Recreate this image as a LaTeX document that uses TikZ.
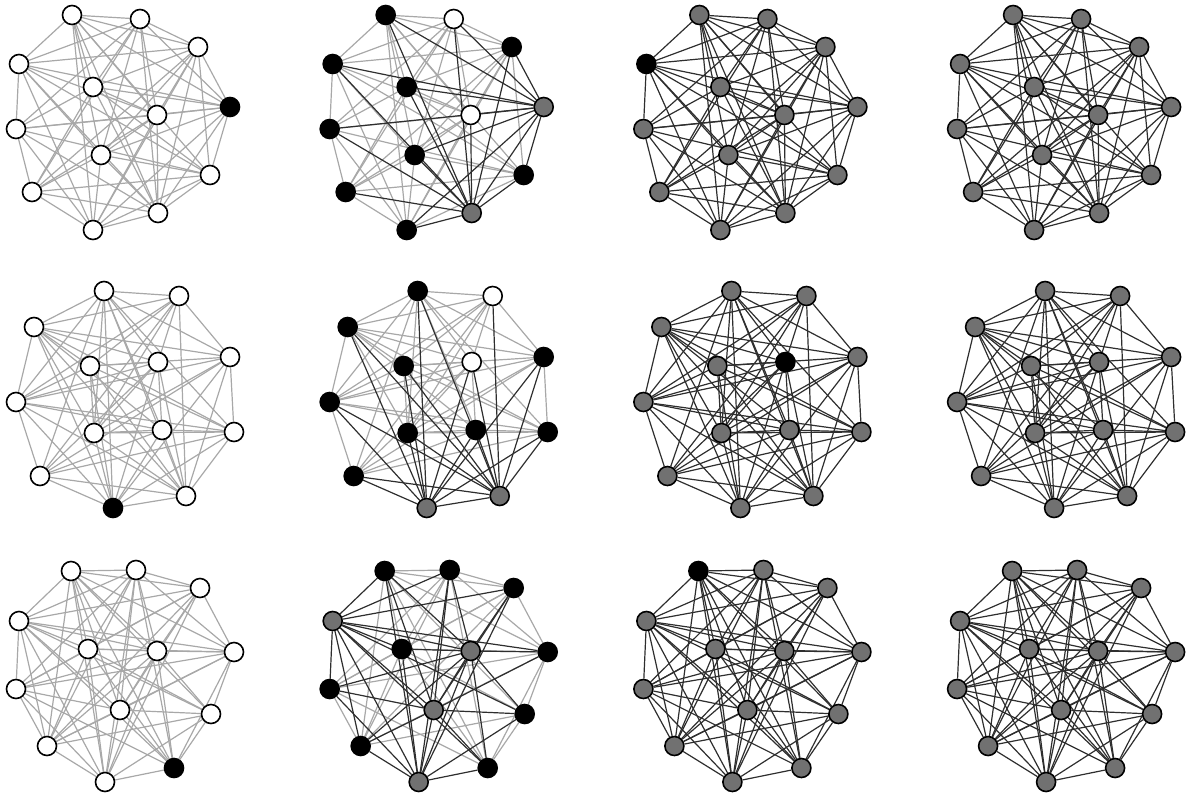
\documentclass[tikz,border=0pt]{standalone}
\usetikzlibrary{calc}
\definecolor{nodegray}{HTML}{717171}
\definecolor{edgelight}{HTML}{A8A8A8}
\definecolor{edgedark}{HTML}{2E2E2E}
\pgfdeclarelayer{lightlayer}
\pgfdeclarelayer{darklayer}
\pgfsetlayers{lightlayer,darklayer,main}
% node positions of the three graphs (first column, pixels)
\def\posA{72/15,140/19,198/47,19/64,93/87,230/107,157/115,16/129,101/155,210/175,32/192,158/213,93/230}
\def\posB{104/291,179/296,34/327,90/366,158/362,230/357,16/402,94/433,162/430,234/432,40/476,186/496,113/508}
\def\posC{71/571,136/570,200/588,19/621,88/649,157/651,234/652,16/689,120/710,211/714,47/746,174/768,105/782}
% edges
\def\edgA{1/2,1/3,1/4,1/5,1/6,1/7,1/9,1/10,1/12,1/13,2/3,2/4,2/5,2/6,2/7,2/8,2/9,2/11,2/12,3/4,3/5,3/6,3/7,3/9,3/10,3/11,3/12,3/13,4/6,4/7,4/8,4/9,4/10,4/12,4/13,5/6,5/7,5/8,5/10,5/11,5/12,6/7,6/8,6/9,6/10,6/12,6/13,7/8,7/9,7/11,7/12,7/13,8/10,8/11,8/12,8/13,9/10,9/11,9/12,9/13,10/11,10/12,10/13,11/12,11/13,12/13}
\def\edgB{1/2,1/3,1/5,1/6,1/7,1/8,1/9,1/10,1/11,1/12,1/13,2/3,2/4,2/5,2/6,2/7,2/8,2/11,2/12,3/4,3/5,3/6,3/7,3/8,3/9,3/10,3/12,3/13,4/5,4/6,4/7,4/8,4/10,4/12,4/13,5/7,5/8,5/9,5/11,5/12,5/13,6/7,6/8,6/10,6/11,6/12,6/13,7/9,7/10,7/11,7/12,7/13,8/9,8/10,8/12,8/13,9/10,9/11,9/12,9/13,10/11,10/12,10/13,11/12,11/13,12/13}
\def\edgC{1/2,1/3,1/4,1/5,1/6,1/7,1/9,1/10,1/11,1/12,1/13,2/3,2/4,2/5,2/6,2/7,2/8,2/9,2/11,2/12,2/13,3/4,3/5,3/6,3/7,3/8,3/9,3/11,3/13,4/5,4/6,4/7,4/8,4/9,4/10,4/11,4/12,4/13,5/6,5/7,5/8,5/10,5/11,5/12,5/13,6/7,6/8,6/9,6/10,6/11,6/12,6/13,7/8,7/9,7/10,7/11,7/12,8/9,8/11,8/12,8/13,9/10,9/11,9/12,9/13,10/11,10/12,10/13,11/13,12/13}
\gdef\lightlist{}
\gdef\darklist{}
% #1 row, #2 column, #3 positions, #4 states (0 white, 1 black, 2 grey), #5 edges
\newcommand\mkpanel[5]{%
  \pgfmathsetmacro\xo{(#2-1)*313.7}%
  \foreach [count=\i] \s in {#4}{\expandafter\xdef\csname st-#1-#2-\i\endcsname{\s}}%
  \foreach [count=\i] \px/\py in #3{%
    \edef\tmp{\noexpand\node[st\csname st-#1-#2-\i\endcsname] (n#1-#2-\i) at (\xo+\px,\py) {};}%
    \tmp}%
  \foreach \a/\b in #5{%
    \ifnum\csname st-#1-#2-\a\endcsname=2 \def\dk{1}\else
      \ifnum\csname st-#1-#2-\b\endcsname=2 \def\dk{1}\else\def\dk{0}\fi\fi
    \ifnum\dk=1
      \xdef\darklist{\unexpanded\expandafter{\darklist}\noexpand\draw[edark] (n#1-#2-\a) -- (n#1-#2-\b);}%
    \else
      \xdef\lightlist{\unexpanded\expandafter{\lightlist}\noexpand\draw[elight] (n#1-#2-\a) -- (n#1-#2-\b);}%
    \fi}%
}
\begin{document}
\begin{tikzpicture}[x=1pt,y=-1pt,
  nd/.style={circle, draw=black, line width=1.6pt, minimum size=19pt, inner sep=0pt},
  st0/.style={nd, fill=white},
  st1/.style={nd, fill=black},
  st2/.style={nd, fill=nodegray},
  elight/.style={draw=edgelight, line width=1.2pt},
  edark/.style={draw=edgedark, line width=1.2pt}]
\useasboundingbox (0,0) rectangle (1188,796);
% row 1
\mkpanel{1}{1}{\posA}{0,0,0,0,0,1,0,0,0,0,0,0,0}{\edgA}
\mkpanel{1}{2}{\posA}{1,0,1,1,1,2,0,1,1,1,1,2,1}{\edgA}
\mkpanel{1}{3}{\posA}{2,2,2,1,2,2,2,2,2,2,2,2,2}{\edgA}
\mkpanel{1}{4}{\posA}{2,2,2,2,2,2,2,2,2,2,2,2,2}{\edgA}
% row 2
\mkpanel{2}{1}{\posB}{0,0,0,0,0,0,0,0,0,0,0,0,1}{\edgB}
\mkpanel{2}{2}{\posB}{1,0,1,1,0,1,1,1,1,1,1,2,2}{\edgB}
\mkpanel{2}{3}{\posB}{2,2,2,2,1,2,2,2,2,2,2,2,2}{\edgB}
\mkpanel{2}{4}{\posB}{2,2,2,2,2,2,2,2,2,2,2,2,2}{\edgB}
% row 3
\mkpanel{3}{1}{\posC}{0,0,0,0,0,0,0,0,0,0,0,1,0}{\edgC}
\mkpanel{3}{2}{\posC}{1,1,1,2,1,2,1,1,2,1,1,1,2}{\edgC}
\mkpanel{3}{3}{\posC}{1,2,2,2,2,2,2,2,2,2,2,2,2}{\edgC}
\mkpanel{3}{4}{\posC}{2,2,2,2,2,2,2,2,2,2,2,2,2}{\edgC}
% connectors, behind the nodes
\begin{pgfonlayer}{lightlayer}\lightlist\end{pgfonlayer}
\begin{pgfonlayer}{darklayer}\darklist\end{pgfonlayer}
\end{tikzpicture}
\end{document}
